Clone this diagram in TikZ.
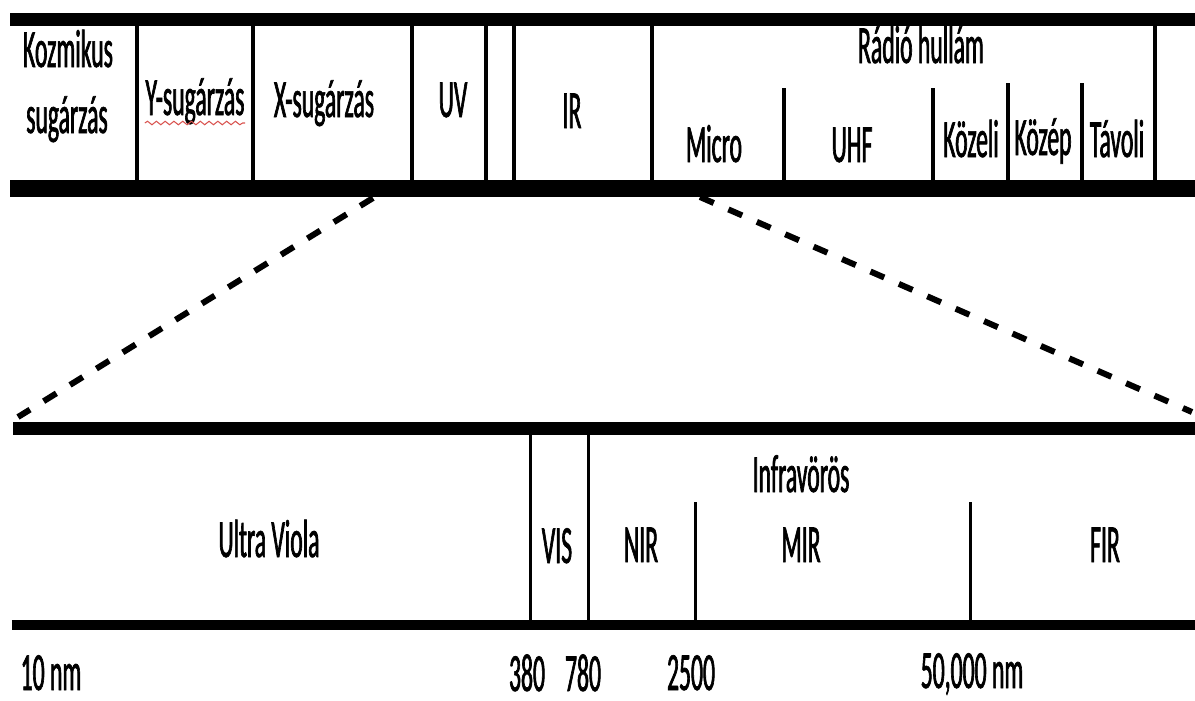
\documentclass[tikz,border=0pt]{standalone}
\usepackage{fontspec}
\setmainfont[FakeStretch=0.44,FakeBold=1.2]{Carlito}
\usepackage{xcolor}
\usetikzlibrary{decorations.pathmorphing}
\definecolor{spellred}{HTML}{D9534F}

\begin{document}
\begin{tikzpicture}[every node/.style={font=\fontsize{15.3}{18}\selectfont, inner sep=0pt, anchor=base},
    thickbar/.style={line width=0.13cm},
    divider/.style={line width=0.04cm},
    thindivider/.style={line width=0.03cm},
    zoomline/.style={line width=0.06cm, dash pattern=on 0.15cm off 0.16cm}]
  \useasboundingbox (0,0) rectangle (11.95,7.00);

  % teljes spektrum (felső sáv)
  \draw[thickbar] (0.10,6.805) -- (11.95,6.805);
  \draw[thickbar,line width=0.17cm] (0.10,5.12) -- (11.95,5.12);
  \foreach \x in {1.37,2.53,4.12,4.86,5.14,6.52,11.55}
    \draw[divider] (\x,6.80) -- (\x,5.12);
  \foreach \x/\t in {7.84/6.12,9.33/6.12,10.08/6.17,10.82/6.17}
    \draw[divider] (\x,\t) -- (\x,5.12);

  \node (kozmikus) at (0.68,6.33) {Kozmikus};
  \node (kozmikus2) at (0.67,5.67) {sugárzás};
  \node (gamma) at (1.95,5.85) {Y-sugárzás};
  \draw[spellred,line width=0.3pt,decorate,decoration={snake,amplitude=0.5pt,segment length=2.5pt}]
    ([yshift=-0.08cm]gamma.base west) -- ([yshift=-0.08cm]gamma.base east);
  \node (xray) at (3.24,5.83) {X-sugárzás};
  \node (uv) at (4.53,5.83) {UV};
  \node (ir) at (5.72,5.72) {IR};
  \node (radio) at (9.21,6.37) {Rádió hullám};
  \node (micro) at (7.14,5.38) {Micro};
  \node (uhf) at (8.52,5.38) {UHF};
  \node (kozeli) at (9.71,5.43) {Közeli};
  \node (kozep) at (10.43,5.45) {Közép};
  \node (tavoli) at (11.17,5.43) {Távoli};

  % nagyított rész (alsó sáv)
  \draw[thickbar] (0.13,2.72) -- (11.95,2.72);
  \draw[thickbar,line width=0.10cm] (0.12,0.75) -- (11.95,0.75);
  \foreach \x in {5.30,5.88}
    \draw[thindivider] (\x,2.72) -- (\x,0.75);
  \foreach \x in {6.95,9.70}
    \draw[thindivider] (\x,1.98) -- (\x,0.75);

  \node (ultra) at (2.69,1.43) {Ultra Viola};
  \node (vis) at (5.57,1.37) {VIS};
  \node (nir) at (6.41,1.38) {NIR};
  \node (infra) at (8.01,2.08) {Infravörös};
  \node (mir) at (8.01,1.38) {MIR};
  \node (fir) at (11.05,1.38) {FIR};

  \node (n10) at (0.51,0.10) {10 nm};
  \node (n380) at (5.27,0.09) {380};
  \node (n780) at (5.83,0.09) {780};
  \node (n2500) at (6.91,0.10) {2500};
  \node (n50000) at (9.72,0.12) {50,000 nm};

  % nagyítás vonalai
  \coordinate (xend) at (3.73,5.02);
  \coordinate (uvstart) at (0.18,2.83);
  \coordinate (irend) at (7.00,5.03);
  \coordinate (firend) at (11.92,2.88);
  \draw[zoomline] (xend) -- (uvstart);
  \draw[zoomline] (irend) -- (firend);
\end{tikzpicture}
\end{document}
